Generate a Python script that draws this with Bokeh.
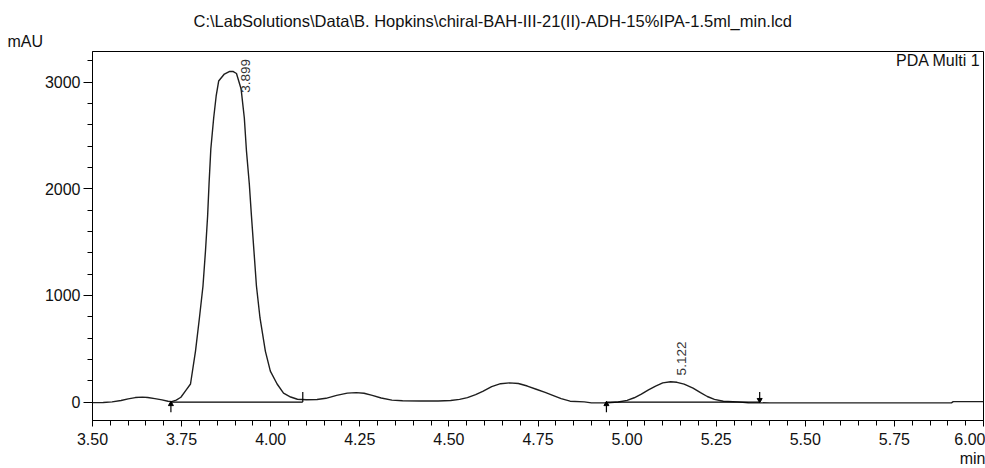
import numpy as np
from bokeh.plotting import figure
from bokeh.models import Range1d, FixedTicker, NumeralTickFormatter, Label, Title, ColumnDataSource
from bokeh.core.properties import value
from bokeh.embed import file_html
from bokeh.resources import INLINE

# ---- data ----
time_min = [3.500, 3.530, 3.555, 3.580, 3.600, 3.620, 3.640, 3.655, 3.675, 3.695,
            3.712, 3.722, 3.735, 3.748, 3.762, 3.775, 3.789, 3.800, 3.810, 3.817,
            3.823, 3.827, 3.832, 3.840, 3.847, 3.854, 3.870, 3.885, 3.895, 3.904,
            3.917, 3.926, 3.932, 3.940, 3.946, 3.953, 3.960, 3.970, 3.985, 3.999,
            4.018, 4.036, 4.056, 4.075, 4.100, 4.130, 4.155, 4.185, 4.215, 4.240,
            4.262, 4.285, 4.310, 4.340, 4.370, 4.420, 4.470, 4.505, 4.530, 4.552,
            4.575, 4.595, 4.620, 4.645, 4.670, 4.695, 4.720, 4.745, 4.770, 4.795,
            4.815, 4.840, 4.880, 4.900, 4.945, 4.975, 5.000, 5.020, 5.040, 5.060,
            5.080, 5.100, 5.122, 5.140, 5.160, 5.185, 5.206, 5.225, 5.245, 5.270,
            5.310, 5.340, 5.400, 5.600, 5.800, 5.910, 5.915, 6.000]
signal_mau = [-5, -4, 2, 15, 30, 42, 46, 43, 32, 20,
              8, 4, 18, 45, 110, 169, 478, 788, 1088, 1416,
              1744, 2044, 2372, 2663, 2869, 3009, 3075, 3100, 3098, 3080,
              2934, 2663, 2353, 2044, 1744, 1416, 1088, 788, 478, 290,
              169, 84, 47, 26, 22, 24, 35, 62, 84, 88,
              82, 62, 38, 18, 12, 10, 10, 14, 25, 42,
              70, 100, 145, 172, 180, 174, 150, 120, 90, 58,
              32, 8, 2, -8, -8, 0, 16, 40, 75, 115,
              150, 180, 190, 185, 168, 130, 88, 52, 25, 8,
              2, -6, -8, -8, -8, -8, 4, 4]

peak_times = [3.899, 5.122]
peak_heights = [3100, 190]
peak_labels = ["3.899", "5.122"]

base_start = [3.720, 4.942]
base_end = [4.090, 5.372]

mark_up_times = [3.720, 4.942]     # arrows below baseline
mark_tick_times = [4.090]          # plain tick above baseline
mark_down_times = [5.372]          # arrow above baseline

x_ticks = [3.50, 3.75, 4.00, 4.25, 4.50, 4.75, 5.00, 5.25, 5.50, 5.75, 6.00]
y_ticks = [0, 1000, 2000, 3000]

title_text = "C:\\LabSolutions\\Data\\B. Hopkins\\chiral-BAH-III-21(II)-ADH-15%IPA-1.5ml_min.lcd"

FONT = "Liberation Sans"

p = figure(width=985, height=468, output_backend="svg", toolbar_location=None,
           x_range=Range1d(3.5, 6.0), y_range=Range1d(-173, 3286),
           min_border_left=92, min_border_right=2, min_border_top=51, min_border_bottom=48)
p.background_fill_color = "white"
p.border_fill_color = "white"
p.outline_line_color = "black"
p.outline_line_width = 1
p.xgrid.visible = False
p.ygrid.visible = False

# titles / outer texts
p.title.text = title_text
p.title.align = "left"
p.title.offset = 101
p.title.standoff = 0
p.title.text_font = FONT
p.title.text_font_size = "16.5px"
p.title.text_font_style = "normal"
p.title.text_color = "#111111"

p.add_layout(Title(text="mAU", align="left", offset=-85, standoff=3, text_font=FONT,
                   text_font_size="16px", text_font_style="normal", text_color="#111111"), "above")
p.add_layout(Title(text="min", align="right", offset=-2, standoff=0, text_font=FONT,
                   text_font_size="16px", text_font_style="normal", text_color="#111111"), "below")

# axes
minor_x = list(np.round(np.arange(3.5, 6.0001, 0.05), 2))
minor_y = list(range(0, 3201, 200))
p.xaxis.ticker = FixedTicker(ticks=x_ticks, minor_ticks=minor_x)
p.yaxis.ticker = FixedTicker(ticks=y_ticks, minor_ticks=minor_y)
p.xaxis.formatter = NumeralTickFormatter(format="0.00")
p.yaxis.formatter = NumeralTickFormatter(format="0")
for ax in (p.xaxis, p.yaxis):
    ax.axis_line_color = "black"
    ax.major_tick_line_color = "black"
    ax.minor_tick_line_color = "black"
    ax.major_tick_in = 0
    ax.minor_tick_in = 0
    ax.major_label_text_font = FONT
    ax.major_label_text_font_size = "16px"
    ax.major_label_text_color = "#111111"
p.xaxis.major_tick_out = 6
p.xaxis.minor_tick_out = 5
p.xaxis.major_label_standoff = 6
p.yaxis.major_tick_out = 9
p.yaxis.minor_tick_out = 5
p.yaxis.major_label_standoff = 3

# trace
p.line(time_min, signal_mau, line_color="#1e1e1e", line_width=1.4)

# integration baselines and markers
p.segment(x0=base_start, y0=[0] * len(base_start), x1=base_end, y1=[0] * len(base_end),
          line_color="black", line_width=1.2)
p.segment(x0=mark_up_times, y0=[0] * 2, x1=mark_up_times, y1=[-95] * 2, line_color="black", line_width=1.2)
p.scatter(mark_up_times, [-20] * 2, marker="triangle", size=5, fill_color="black", line_color="black")
p.segment(x0=mark_tick_times, y0=[0], x1=mark_tick_times, y1=[95], line_color="black", line_width=1.2)
p.segment(x0=mark_down_times, y0=[0], x1=mark_down_times, y1=[95], line_color="black", line_width=1.2)
p.scatter(mark_down_times, [20], marker="inverted_triangle", size=5, fill_color="black", line_color="black")

# peak labels (rotated)
label_y = [min(h + 60, 2900) for h in peak_heights]
src = ColumnDataSource(dict(x=peak_times, y=label_y, t=peak_labels))
p.text(x="x", y="y", text="t", source=src, angle=np.pi / 2, x_offset=11,
       text_align="left", text_baseline="middle", text_font=value(FONT),
       text_font_size="13.5px", text_color="#333333")

p.add_layout(Label(x=888, y=360, x_units="screen", y_units="screen", text="PDA Multi 1",
                   text_align="right", text_baseline="alphabetic", text_font=FONT,
                   text_font_size="16px", text_color="#111111"))

open("out.html", "w").write(file_html(p, INLINE))
